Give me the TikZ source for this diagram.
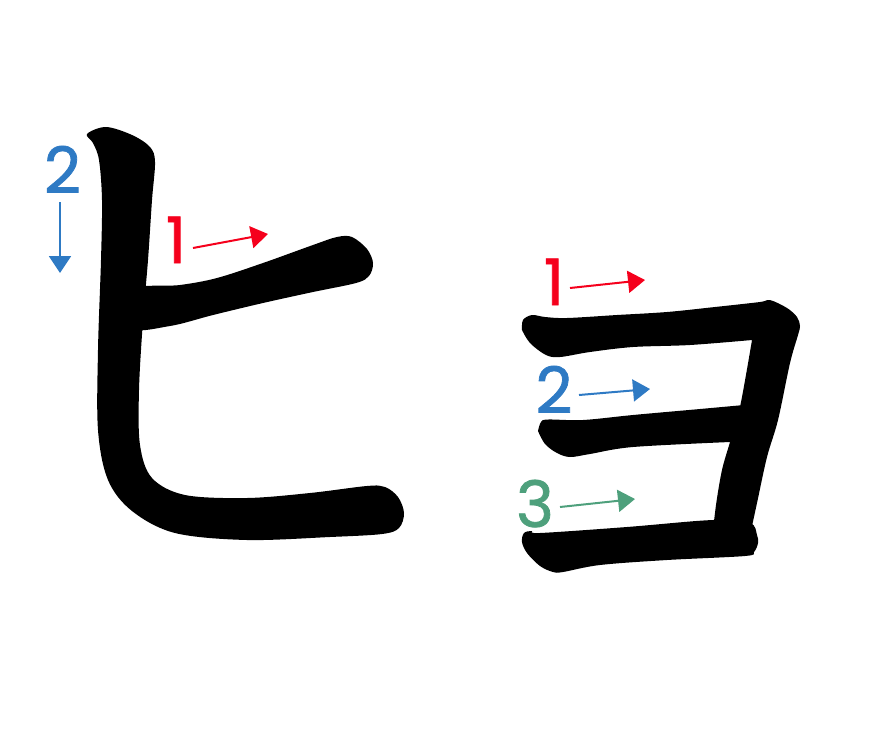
\documentclass[tikz,border=0pt]{standalone}
\usepackage{fontspec}
\setmainfont{Poppins}
\newfontface\numfont{Poppins}[FakeBold=1.2]
\usetikzlibrary{arrows.meta}
\definecolor{sred}{RGB}{245,0,28}
\definecolor{sblue}{RGB}{46,122,196}
\definecolor{sgreen}{RGB}{78,160,124}
\tikzset{
  num/.style={anchor=base, inner sep=0pt, font=\numfont\fontsize{64}{64}\selectfont},
  dirarrow/.style={line width=2pt, -{Triangle[length=17pt,width=22pt]}},
  strokeshape/.style={fill=black, draw=none}
}
\begin{document}
\begin{tikzpicture}[x=1pt,y=-1pt]
\useasboundingbox (0,0) rectangle (880,739);

% ---- katakana HI ----
% stroke 2 (vertical + bottom)
\fill[strokeshape] plot[smooth cycle, tension=0.55] coordinates {
 (87,134) (106,127) (132,135) (150,147) (155,162) (152,200) (148,260) (143,320)
 (139,390) (140,445) (152,478) (185,495) (247,498) (310,493) (367,486) (385,487)
 (398,497) (404,513) (399,528) (382,534) (330,537) (247,540) (175,533) (132,511)
 (108,480) (98,430) (98,350) (101,260) (102,200) (99,160) (93,143)};
% stroke 1 (horizontal)
\fill[strokeshape] plot[smooth cycle, tension=0.55] coordinates {
 (130,290) (180,285) (217,278) (263,263) (313,245) (337,237) (352,237) (367,249)
 (373,263) (369,276) (356,283) (313,292) (263,303) (213,315) (170,326) (130,328)};

% ---- katakana small YO ----
% stroke 1 (top + vertical)
\fill[strokeshape]
 plot[smooth, tension=0.55] coordinates {(522,330) (523,320) (532,315) (545,317) (567,318)
   (617,315) (667,312) (715,307) (760,302) (770,300) (787,308) (797,317) (800,326)
   (798,335) (790,363) (778,420) (767,457) (757,503) (749,540)}
 -- plot[smooth, tension=0.55] coordinates {(712,540) (716,505) (722,470) (730,442) (740,407) (752,340)}
 -- plot[smooth, tension=0.55] coordinates {(752,340) (690,345) (633,347) (590,352) (560,357)
   (546,355) (530,343) (522,330)} -- cycle;
% stroke 2 (middle)
\fill[strokeshape]
 plot[smooth, tension=0.55] coordinates {(538,431) (541,422) (548,419.5) (583,420) (633,415) (700,409) (755,404)}
 -- (750,441)
 -- plot[smooth, tension=0.55] coordinates {(730,442) (633,447) (590,454) (570,457) (557,453) (545,444) (538,431)}
 -- cycle;
% stroke 3 (bottom)
\fill[strokeshape] plot[smooth cycle, tension=0.55] coordinates {
 (522,542) (524,533) (532,531) (540,533) (627,527) (713,520) (750,523) (757,535)
 (758,543) (754,552) (745,556) (667,560) (600,565) (563,572) (553,572) (540,566) (527,553)};

% ---- labels and arrows ----
\node[num, text=sblue] (hi2) at (62.5,193) {2};
\coordinate (hi2s) at (60,202);
\coordinate (hi2e) at (60,273);
\draw[dirarrow, sblue] (hi2s) -- (hi2e);

\node[num, text=sred] (hi1) at (176,263) {1};
\coordinate (hi1s) at (193,248);
\coordinate (hi1e) at (268,234);
\draw[dirarrow, sred] (hi1s) -- (hi1e);

\node[num, text=sred] (yo1) at (554,305) {1};
\coordinate (yo1s) at (570,288);
\coordinate (yo1e) at (645,280);
\draw[dirarrow, sred] (yo1s) -- (yo1e);

\node[num, text=sblue] (yo2) at (554,413) {2};
\coordinate (yo2s) at (579,395);
\coordinate (yo2e) at (650,389);
\draw[dirarrow, sblue] (yo2s) -- (yo2e);

\node[num, text=sgreen] (yo3) at (535,527) {3};
\coordinate (yo3s) at (560,507);
\coordinate (yo3e) at (635,499);
\draw[dirarrow, sgreen] (yo3s) -- (yo3e);
\end{tikzpicture}
\end{document}
